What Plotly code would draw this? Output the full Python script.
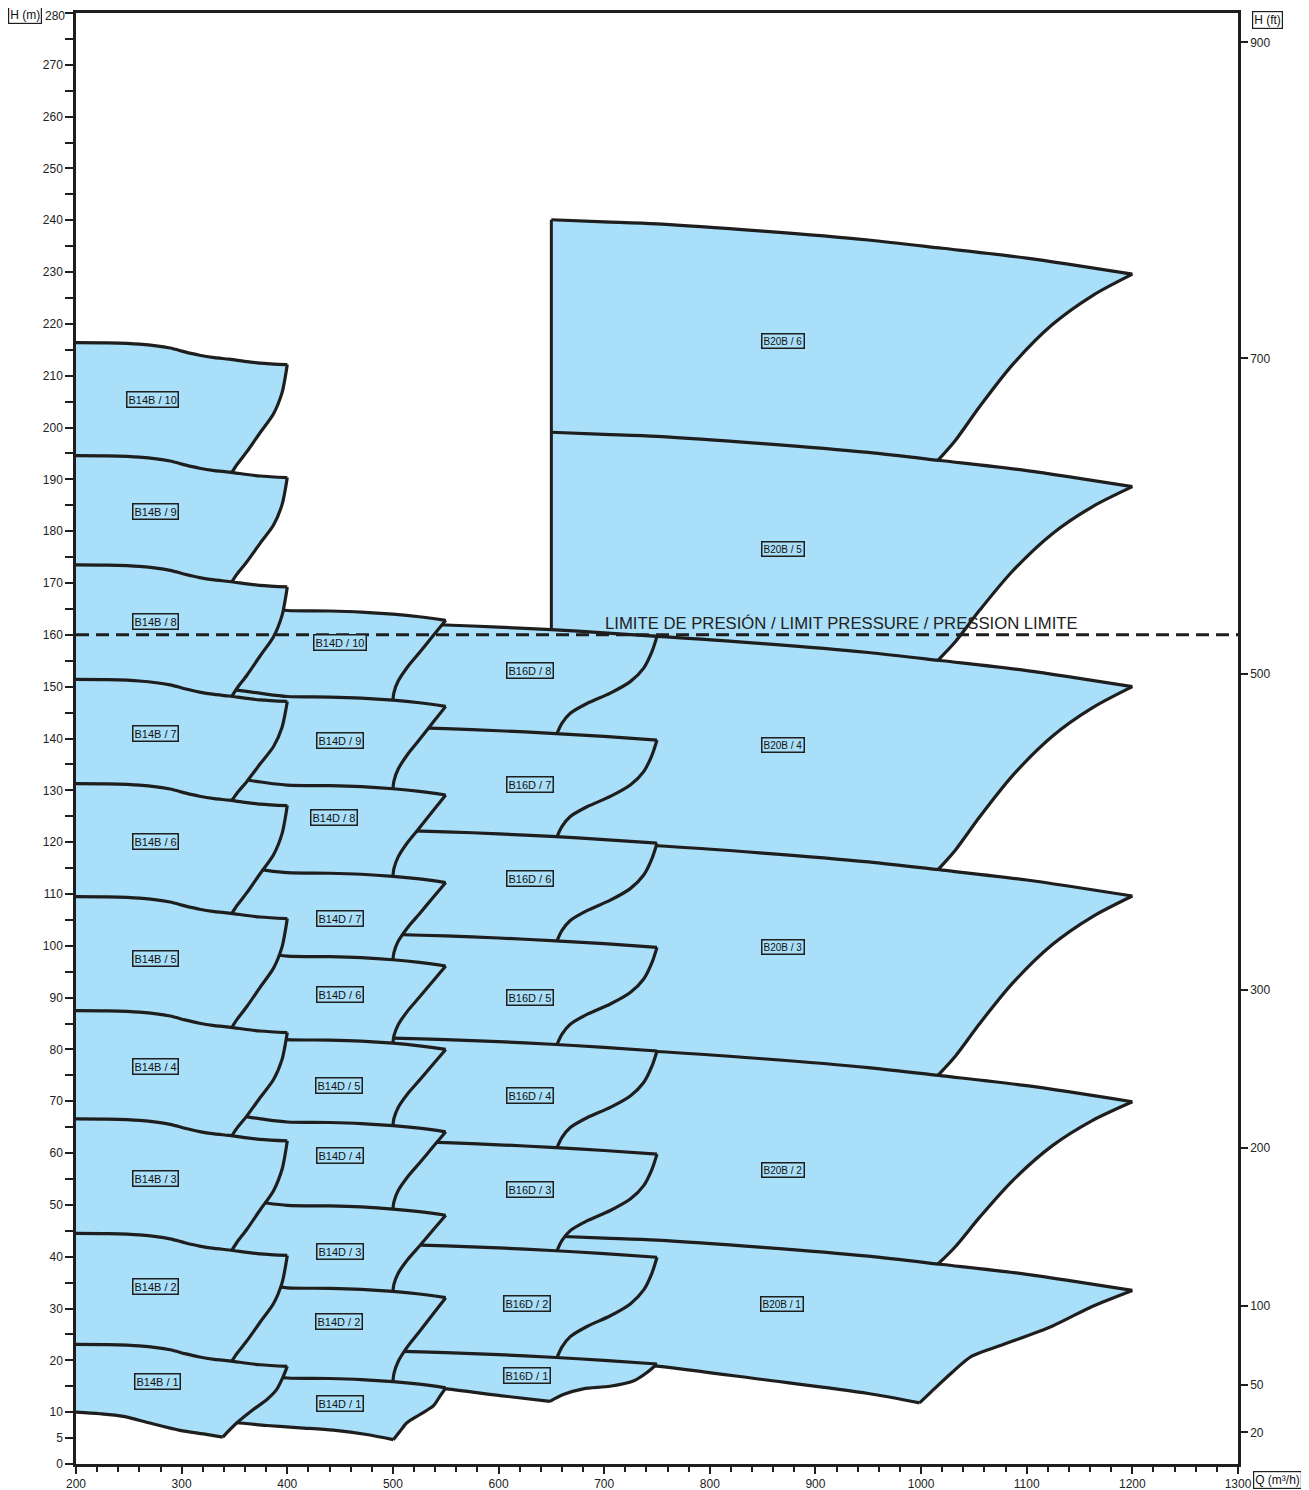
import numpy as np
import plotly.graph_objects as go

# ---------------- data ----------------
# Each family: top curve profile (Q, head offset from the stage head), stage heads,
# right-edge profile (Q offset, fraction of drop), first-stage right edge and bottom curve.

# B14B
b14b_top_q = [200, 230, 260, 289, 303, 317, 331, 345, 374, 400]
b14b_top_dh = [0, -0.05, -0.3, -1.05, -1.8, -2.45, -2.9, -3.2, -3.95, -4.25]
b14b_stage_head = [23.1, 44.5, 66.6, 87.5, 109.5, 131.3, 151.4, 173.5, 194.6, 216.4]
b14b_right_dq = [0, -1.7, -5, -13, -25.6, -38.2, -47.6, -52.5]
b14b_right_frac = [0, 0.104, 0.262, 0.455, 0.629, 0.807, 0.926, 1.0]
b14b_first_right_q = [396.2, 390, 380.5, 367.8, 352.1, 338.9]
b14b_first_right_h = [16.9, 14.4, 12.4, 10.5, 7.9, 5.2]
b14b_bottom_q = [200, 222.7, 244.8, 270, 298.4, 320.5, 338.9]
b14b_bottom_h = [10.0, 9.7, 9.2, 7.9, 6.5, 5.8, 5.2]
b14b_label_q = [276.7, 275, 275, 275, 275, 275, 275, 275, 275, 272]
b14b_label_h = [15.9, 34.2, 55.1, 76.7, 97.5, 120.1, 141.0, 162.6, 183.8, 205.4]

# B14D
b14d_top_q = [330, 350, 375, 400, 440, 470, 500, 525, 550]
b14d_top_dh = [1.6, 1.3, 0.6, 0, -0.1, -0.3, -0.7, -1.2, -1.9]
b14d_stage_head = [16.6, 34.0, 49.9, 66.0, 81.9, 98.0, 114.1, 131.0, 148.1, 164.7]
b14d_right_dq = [0, -12, -25, -36, -45, -49, -50]
b14d_right_frac = [0, 0.194, 0.406, 0.581, 0.761, 0.903, 1.0]
b14d_first_right_q = [544.6, 538.2, 525.6, 513, 506.7, 500.4]
b14d_first_right_h = [13.1, 11.2, 9.55, 7.9, 6.3, 4.7]
b14d_bottom_q = [330, 352, 380.5, 412, 443.6, 475.2, 500.4]
b14d_bottom_h = [8.0, 7.96, 7.43, 6.98, 6.52, 5.69, 4.7]
b14d_label_q = [449.9, 448.9, 449.9, 449.9, 448.9, 449.9, 449.9, 444.2, 449.9, 449.9]
b14d_label_h = [11.7, 27.5, 41.0, 59.5, 73.0, 90.6, 105.3, 124.7, 139.6, 158.5]

# B16D
b16d_top_q = [480, 500, 550, 600, 650, 700, 750]
b16d_top_dh = [1.4, 1.2, 0.9, 0.5, 0, -0.6, -1.3]
b16d_stage_head = [20.6, 41.2, 61.1, 81.0, 101.0, 121.1, 141.0, 161.0]
b16d_right_dq = [0, -4.7, -12.6, -25.3, -44.2, -66.3, -82.1, -89.9, -94.7]
b16d_right_frac = [0, 0.155, 0.326, 0.465, 0.583, 0.690, 0.791, 0.893, 1.0]
b16d_first_right_q = [740.2, 727.6, 705.5, 680.2, 661.3, 648.7]
b16d_first_right_h = [17.6, 16.0, 15.0, 14.5, 13.4, 12.1]
b16d_bottom_q = [480, 506.7, 550.9, 601.4, 648.7]
b16d_bottom_h = [15.7, 15.3, 14.5, 13.2, 12.1]
b16d_label_q = [627, 627, 629.8, 629.8, 629.8, 629.8, 629.8, 629.8]
b16d_label_h = [17.1, 31.0, 53.0, 71.1, 90.0, 113.0, 131.1, 153.1]

# B20B
b20b_top_q = [650, 700, 750, 850, 950, 1020, 1100, 1200]
b20b_top_dh = [0.8, 0.4, 0, -1.4, -3.1, -4.7, -6.6, -9.7]
b20b_stage_head = [43.2, 79.6, 119.3, 159.7, 198.3, 239.3]
b20b_right_dq = [0, -38, -76, -114, -144.5, -167.4, -184]
b20b_right_frac = [0, 0.116, 0.272, 0.490, 0.711, 0.892, 1.0]
b20b_first_right_q = [1162, 1124, 1078.3, 1048, 1029, 1010, 998.6]
b20b_first_right_h = [30.4, 26.6, 23.1, 20.8, 17.6, 14.0, 11.8]
b20b_bottom_q = [650, 700, 750, 850, 950, 998.6]
b20b_bottom_h = [20.5, 19.7, 18.9, 16.3, 13.6, 11.8]
b20b_label_q = [868.3, 869.3, 869.3, 869.3, 869.3, 869.3]
b20b_label_h = [30.8, 56.8, 99.7, 138.8, 176.6, 216.8]

limit_pressure = 160
h_ticks_m = [0, 5, 10] + list(range(20, 281, 10))
h_minor_m = list(range(15, 280, 10))
h_ticks_ft = [20, 50, 100, 200, 300, 500, 700, 900]
limit_text = "LIMITE DE PRESIÓN / LIMIT PRESSURE / PRESSION LIMITE"

families = [
    dict(name="B20B", top_q=b20b_top_q, top_dh=b20b_top_dh, head=b20b_stage_head,
         rdq=b20b_right_dq, rfrac=b20b_right_frac, frq=b20b_first_right_q, frh=b20b_first_right_h,
         bq=b20b_bottom_q, bh=b20b_bottom_h, lq=b20b_label_q, lh=b20b_label_h, left_edge=True, fs=10),
    dict(name="B16D", top_q=b16d_top_q, top_dh=b16d_top_dh, head=b16d_stage_head,
         rdq=b16d_right_dq, rfrac=b16d_right_frac, frq=b16d_first_right_q, frh=b16d_first_right_h,
         bq=b16d_bottom_q, bh=b16d_bottom_h, lq=b16d_label_q, lh=b16d_label_h, left_edge=False, fs=11),
    dict(name="B14D", top_q=b14d_top_q, top_dh=b14d_top_dh, head=b14d_stage_head,
         rdq=b14d_right_dq, rfrac=b14d_right_frac, frq=b14d_first_right_q, frh=b14d_first_right_h,
         bq=b14d_bottom_q, bh=b14d_bottom_h, lq=b14d_label_q, lh=b14d_label_h, left_edge=False, fs=11),
    dict(name="B14B", top_q=b14b_top_q, top_dh=b14b_top_dh, head=b14b_stage_head,
         rdq=b14b_right_dq, rfrac=b14b_right_frac, frq=b14b_first_right_q, frh=b14b_first_right_h,
         bq=b14b_bottom_q, bh=b14b_bottom_h, lq=b14b_label_q, lh=b14b_label_h, left_edge=False, fs=11),
]

FILL = "#a9dff9"
INK = "#1e1e1e"
FONT = "Liberation Sans, Arial, sans-serif"


def top_curve(fam, i):
    q = np.array(fam["top_q"], dtype=float)
    h = fam["head"][i] + np.array(fam["top_dh"], dtype=float)
    return q, h


def stage_geometry(fam, i):
    tq, th = top_curve(fam, i)
    cq, ch = tq[-1], th[-1]
    if i == 0:
        rq = list(fam["frq"])
        rh = list(fam["frh"])
        lq = np.array(fam["bq"], dtype=float)
        lh = np.array(fam["bh"], dtype=float)
    else:
        lq, lh = top_curve(fam, i - 1)
        eq = cq + fam["rdq"][-1]
        eh = float(np.interp(eq, lq, lh))
        rq = [cq + d for d in fam["rdq"][1:]]
        rh = [ch + f * (eh - ch) for f in fam["rfrac"][1:]]
    mask = lq < rq[-1] - 0.5
    low_q = list(lq[mask][::-1])
    low_h = list(lh[mask][::-1])
    poly_q = list(tq) + rq + low_q + [tq[0]]
    poly_h = list(th) + rh + low_h + [th[0]]
    top_seg = (list(tq), list(th))
    right_seg = ([cq] + rq, [ch] + rh)
    return poly_q, poly_h, top_seg, right_seg


fig = go.Figure()
annotations = []

for fam in families:
    ox, oy = [], []
    n = len(fam["head"])
    for i in range(n):
        pq, ph, top_seg, right_seg = stage_geometry(fam, i)
        fig.add_trace(go.Scatter(x=pq, y=ph, mode="lines", fill="toself", fillcolor=FILL,
                                 line=dict(width=0, color=FILL), hoverinfo="skip", showlegend=False))
        for sx, sy in (top_seg, right_seg):
            ox += sx + [None]
            oy += sy + [None]
        if i == 0:
            ox += list(fam["bq"]) + [None]
            oy += list(fam["bh"]) + [None]
    fig.add_trace(go.Scatter(x=ox, y=oy, mode="lines", line=dict(color=INK, width=3.2, shape="spline", smoothing=0.8),
                             connectgaps=False, hoverinfo="skip", showlegend=False))
    if fam["left_edge"]:
        tq_top, th_top = top_curve(fam, n - 1)
        fig.add_trace(go.Scatter(x=[fam["bq"][0], tq_top[0]], y=[fam["bh"][0], th_top[0]], mode="lines",
                                 line=dict(color=INK, width=3), hoverinfo="skip", showlegend=False))
    for i in range(n):
        annotations.append(dict(x=fam["lq"][i], y=fam["lh"][i], xref="x", yref="y",
                                text=f"{fam['name']} / {i + 1}", showarrow=False,
                                font=dict(family=FONT, size=fam["fs"], color="#111"),
                                bgcolor=FILL, bordercolor=INK, borderwidth=1.5, borderpad=1))

# invisible trace to activate the right (ft) axis
fig.add_trace(go.Scatter(x=[200], y=[0], yaxis="y2", mode="markers", marker=dict(opacity=0),
                         hoverinfo="skip", showlegend=False))

# limit pressure line
fig.add_shape(type="line", xref="x", yref="y", x0=200, x1=1300, y0=limit_pressure, y1=limit_pressure,
              line=dict(color=INK, width=3, dash="13px,7px"), layer="above")
annotations.append(dict(x=925, y=limit_pressure, xref="x", yref="y", yanchor="bottom", yshift=0,
                        text=limit_text, showarrow=False, font=dict(family=FONT, size=16.7, color="#222")))

box = dict(showarrow=False, bordercolor=INK, borderwidth=1.2, borderpad=1, bgcolor="white",
           font=dict(family=FONT, size=12, color="#111"))
annotations.append(dict(box, x=-0.0435, y=0.9983, xref="paper", yref="paper", text="H (m)",
                        xanchor="center", yanchor="middle"))
annotations.append(dict(box, x=1.025, y=0.995, xref="paper", yref="paper", text="H (ft)",
                        xanchor="center", yanchor="middle"))
annotations.append(dict(box, x=1.0336, y=-0.0107, xref="paper", yref="paper", text="Q (m³/h)",
                        xanchor="center", yanchor="middle"))

# the topmost left tick label is placed as text just inside the page edge
top_tick = h_ticks_m[-1]
tick_text_m = [str(v) for v in h_ticks_m[:-1]] + [""]
annotations.append(dict(x=-0.0086, y=1.0, xref="paper", yref="paper", xanchor="right", yanchor="top",
                        yshift=5, text=str(top_tick), showarrow=False, borderpad=0,
                        font=dict(family=FONT, size=12, color="#222")))

axis_common = dict(showgrid=False, zeroline=False, showline=True, linecolor=INK, linewidth=2.5,
                   ticks="outside", tickcolor=INK, tickwidth=2, automargin=False,
                   ticklabeloverflow="allow",
                   tickfont=dict(family=FONT, size=12, color="#222"))

# The page body adds an 8px offset, so the margins are reduced by that amount.
fig.update_layout(
    width=1301, height=1482,
    margin=dict(l=68, r=71, t=5, b=25.5, autoexpand=False),
    plot_bgcolor="white", paper_bgcolor="white", showlegend=False,
    font=dict(family=FONT, size=12, color="#222"),
    xaxis=dict(axis_common, range=[200, 1300], tick0=200, dtick=100, ticklen=7, mirror=True,
               minor=dict(tick0=200, dtick=20, ticks="outside", ticklen=5, tickwidth=2, tickcolor=INK)),
    yaxis=dict(axis_common, range=[0, 280], tickmode="array", tickvals=h_ticks_m, ticktext=tick_text_m,
               ticklen=8,
               minor=dict(tickmode="array", tickvals=h_minor_m, ticks="outside", ticklen=8,
                          tickwidth=2, tickcolor=INK)),
    yaxis2=dict(axis_common, range=[0, 280 / 0.3048], overlaying="y", side="right", tickmode="array",
                tickvals=h_ticks_ft, ticklen=7),
    annotations=annotations,
)

fig.write_html("out.html")
